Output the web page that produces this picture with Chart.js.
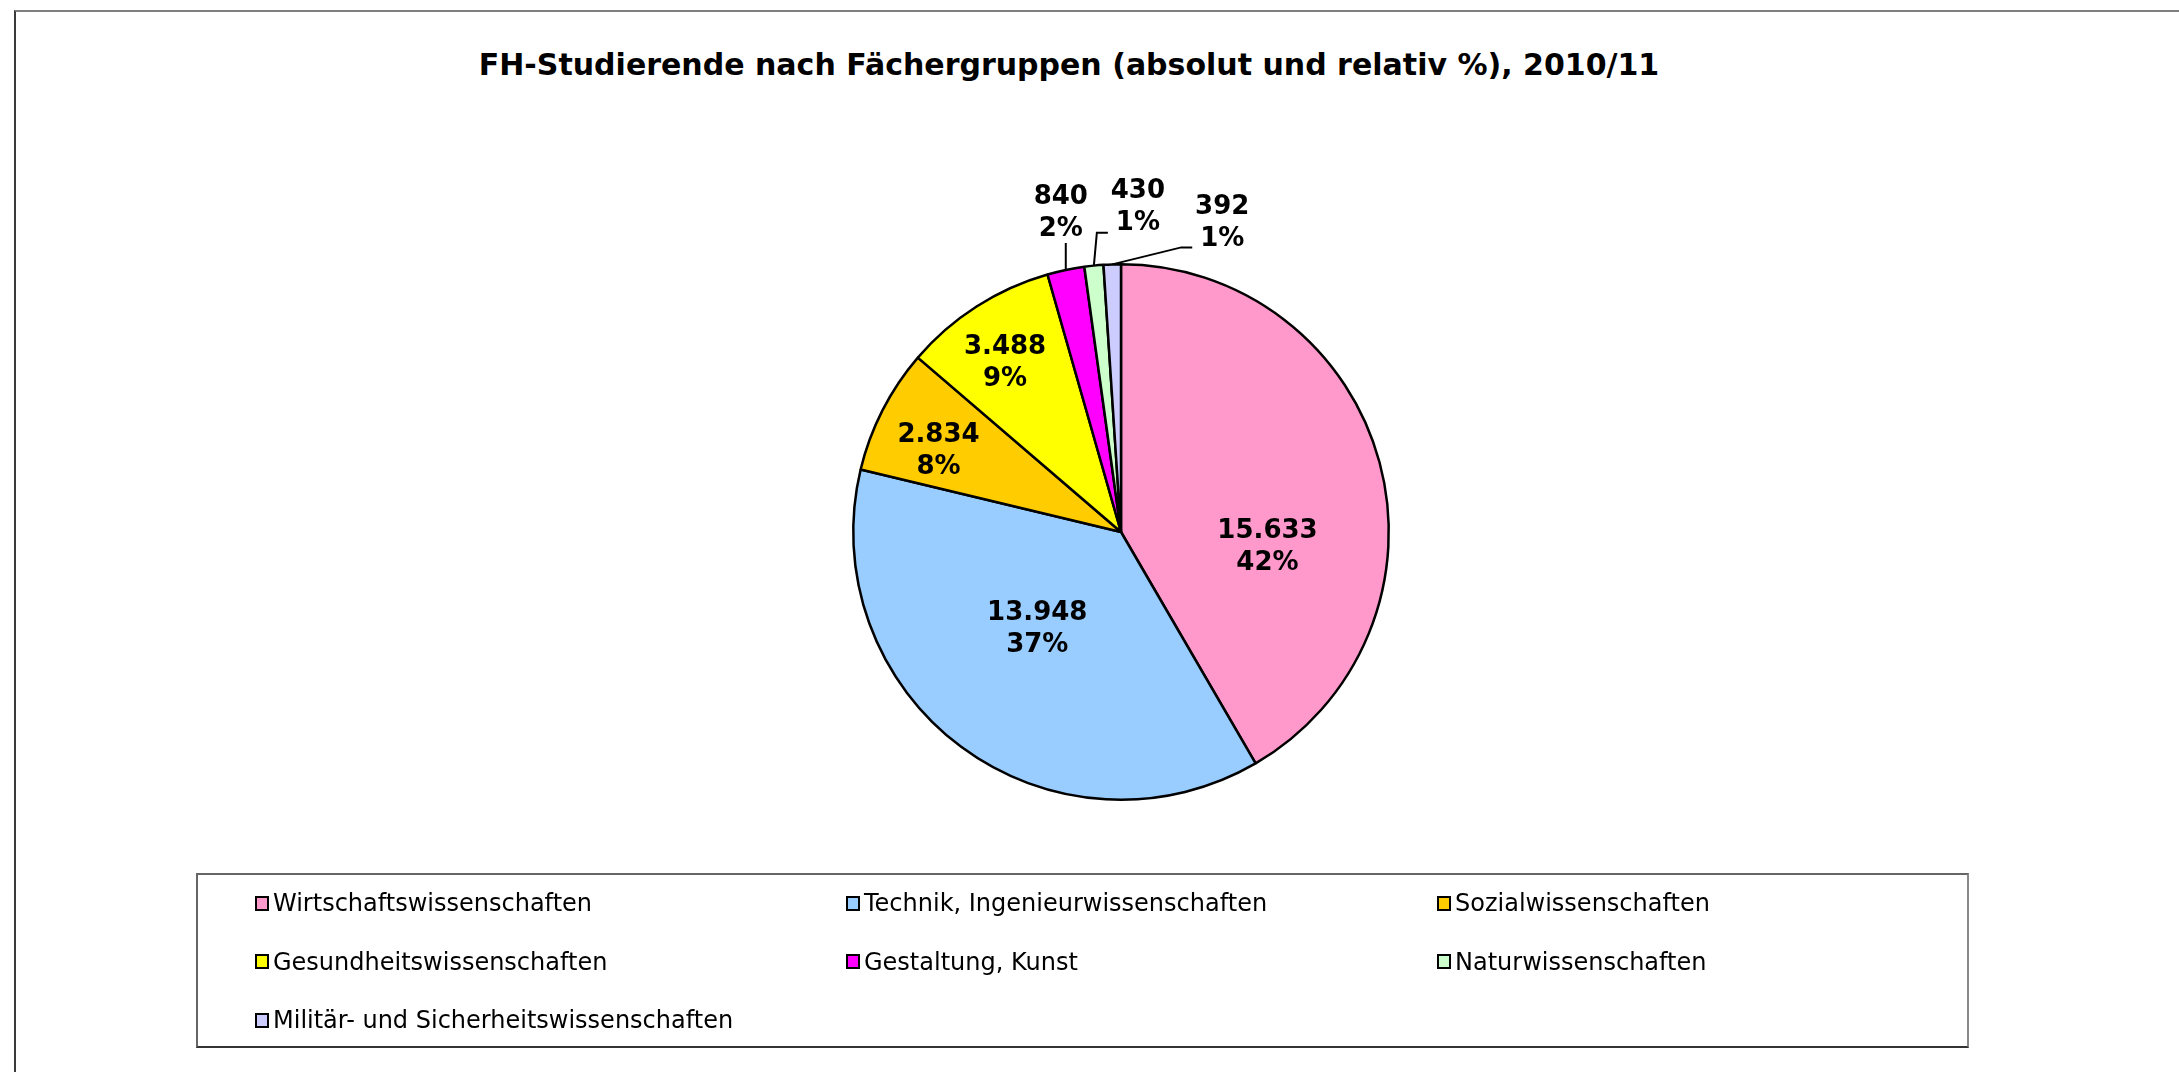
<!DOCTYPE html>
<html>
<head>
<meta charset="utf-8">
<script src="https://cdn.jsdelivr.net/npm/chart.js@4.4.1/dist/chart.umd.min.js"></script>
<style>
  html, body { margin: 0; padding: 0; background: #fff; }
  #wrap { position: relative; width: 2179px; height: 1072px; overflow: hidden; font-family: "DejaVu Sans", Verdana, sans-serif; color: #000; }
  #frame { position: absolute; left: 14px; top: 10px; width: 2300px; height: 1200px; border-top: 2px solid #7f7f7f; border-left: 2px solid #3a3a3a; }
  #title { position: absolute; left: 0; top: 47px; width: 2138px; text-align: center; font-weight: bold; font-size: 30px; white-space: nowrap; }
  #chart { position: absolute; left: 0; top: 0; }
  #legend { position: absolute; left: 196px; top: 873px; width: 1769px; height: 171px; border: 2px solid #666; border-bottom-color: #333; border-right-color: #888; }
  .item { position: absolute; display: flex; align-items: center; font-size: 24px; white-space: nowrap; height: 30px; }
  .box { width: 10px; height: 11px; border: 2px solid #000; margin-right: 4px; }
</style>
</head>
<body>
<div id="wrap">
  <div id="frame"></div>
  <div id="title">FH-Studierende nach Fächergruppen (absolut und relativ %), 2010/11</div>
  <canvas id="chart" width="2179" height="1072"></canvas>
  <div id="legend"></div>
</div>
<script>
// data
const categories = [
    'Wirtschaftswissenschaften',
    'Technik, Ingenieurwissenschaften',
    'Sozialwissenschaften',
    'Gesundheitswissenschaften',
    'Gestaltung, Kunst',
    'Naturwissenschaften',
    'Militär- und Sicherheitswissenschaften'
];
const students = [15633, 13948, 2834, 3488, 840, 430, 392];
const colors = ['#FF99CC', '#99CCFF', '#FFCC00', '#FFFF00', '#FF00FF', '#CCFFCC', '#CCCCFF'];

// label placement (fraction of slice angle, fraction of radius) for inside labels
const insideAngle = [0.64, 0.53, 0.38, 0.445];
const insideRadius = [0.55, 0.48, 0.745, 0.765];
// outside labels: offset of label centre from the slice edge, leader elbow, and tail length
const outsideLabel = [[-5, -57], [44, -58], [110, -41]];
const outsideElbow = [[0, -27], [3, -33], [69, -17]];
const outsideTail = [0, 11, 11];

const total = students.reduce((a, b) => a + b, 0);

function fmtNum(v) {
    return String(v).replace(/\B(?=(\d{3})+(?!\d))/g, '.');
}

const labelPlugin = {
    id: 'sliceLabels',
    afterDatasetsDraw(chart) {
        const ctx = chart.ctx;
        const arcs = chart.getDatasetMeta(0).data;
        ctx.save();
        ctx.font = 'bold 26px "DejaVu Sans", Verdana, sans-serif';
        ctx.fillStyle = '#000';
        ctx.strokeStyle = '#000';
        ctx.lineWidth = 2;
        ctx.textAlign = 'center';
        ctx.textBaseline = 'middle';
        arcs.forEach((arc, i) => {
            const p = arc.getProps(['x', 'y', 'startAngle', 'endAngle', 'outerRadius'], true);
            const val = students[i];
            const pct = Math.round(val / total * 100) + '%';
            let lx, ly;
            if (i < insideAngle.length) {
                const a = p.startAngle + (p.endAngle - p.startAngle) * insideAngle[i];
                const r = p.outerRadius * insideRadius[i];
                lx = p.x + Math.cos(a) * r;
                ly = p.y + Math.sin(a) * r;
            } else {
                const k = i - insideAngle.length;
                const a = (p.startAngle + p.endAngle) / 2;
                const ex = p.x + Math.cos(a) * p.outerRadius;
                const ey = p.y + Math.sin(a) * p.outerRadius;
                const bx = ex + outsideElbow[k][0];
                const by = ey + outsideElbow[k][1];
                ctx.beginPath();
                ctx.moveTo(ex, ey);
                ctx.lineTo(bx, by);
                ctx.lineTo(bx + outsideTail[k], by);
                ctx.stroke();
                lx = ex + outsideLabel[k][0];
                ly = ey + outsideLabel[k][1];
            }
            ctx.fillText(fmtNum(val), lx, ly - 16);
            ctx.fillText(pct, lx, ly + 16);
        });
        ctx.restore();
    }
};

new Chart(document.getElementById('chart'), {
    type: 'pie',
    data: {
        labels: categories,
        datasets: [{
            data: students,
            backgroundColor: colors,
            borderColor: '#000',
            borderWidth: 2.5,
        }],
    },
    options: {
        responsive: false,
        animation: false,
        events: [],
        layout: {
            padding: { left: 852, right: 789, top: 263, bottom: 271 },
        },
        plugins: {
            legend: { display: false },
            tooltip: { enabled: false },
        },
    },
    plugins: [labelPlugin],
});

// legend, 3 columns
const legend = document.getElementById('legend');
categories.forEach((name, i) => {
    const item = document.createElement('div');
    item.className = 'item';
    item.style.left = (57 + (i % 3) * 591) + 'px';
    item.style.top = (13 + Math.floor(i / 3) * 58.5) + 'px';
    const box = document.createElement('div');
    box.className = 'box';
    box.style.background = colors[i];
    item.appendChild(box);
    item.appendChild(document.createTextNode(name));
    legend.appendChild(item);
});
</script>
</body>
</html>
